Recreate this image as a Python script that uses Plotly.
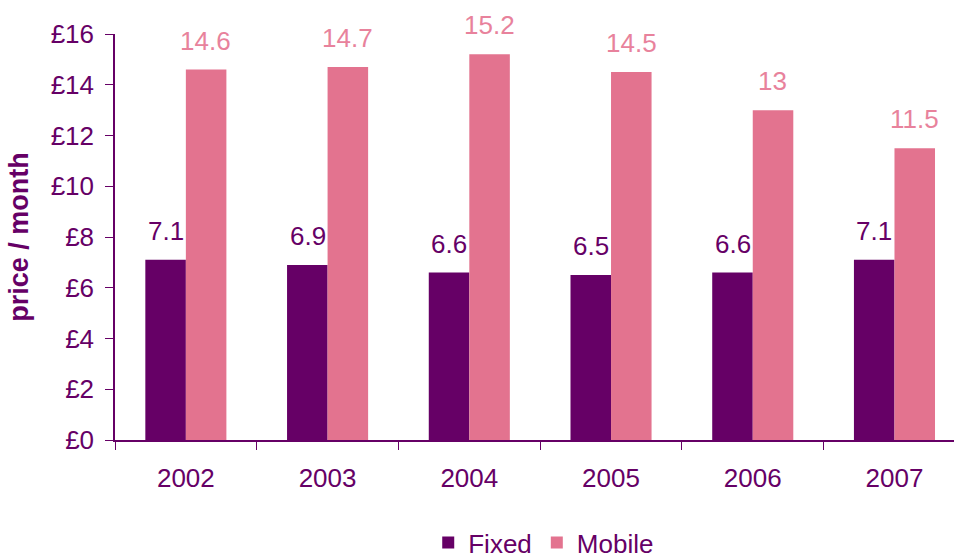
import plotly.graph_objects as go

years = ["2002", "2003", "2004", "2005", "2006", "2007"]
fixed = [7.1, 6.9, 6.6, 6.5, 6.6, 7.1]
mobile = [14.6, 14.7, 15.2, 14.5, 13, 11.5]
y_ticks = [0, 2, 4, 6, 8, 10, 12, 14, 16]
y_tick_labels = ["£" + str(v) for v in y_ticks]

PURPLE = "#660066"
PINK = "#E3738F"
PINK_TEXT = "#E8829C"
FONT = "Liberation Sans, Arial, sans-serif"

fig = go.Figure()
fig.add_trace(go.Bar(name="Fixed", x=years, y=fixed, marker_color=PURPLE, marker_line_width=0))
fig.add_trace(go.Bar(name="Mobile", x=years, y=mobile, marker_color=PINK, marker_line_width=0))

annotations = []
for i, (f, m) in enumerate(zip(fixed, mobile)):
    annotations.append(dict(x=i, y=f, xref="x", yref="y", text=f"{f:g}", showarrow=False,
                            xshift=-20, yshift=12, yanchor="bottom",
                            font=dict(size=26, color=PURPLE, family=FONT)))
    annotations.append(dict(x=i, y=m, xref="x", yref="y", text=f"{m:g}", showarrow=False,
                            xshift=20, yshift=12, yanchor="bottom",
                            font=dict(size=26, color=PINK_TEXT, family=FONT)))

fig.update_layout(
    width=954, height=558,
    margin=dict(l=115, r=0, t=34, b=118, autoexpand=False),
    paper_bgcolor="white", plot_bgcolor="white",
    barmode="group", bargap=0.428, bargroupgap=0,
    font=dict(family=FONT, color=PURPLE, size=26),
    annotations=annotations,
    showlegend=True,
    legend=dict(orientation="h", x=0.511, xanchor="center", y=-0.195, yanchor="top",
                font=dict(size=26, color=PURPLE, family=FONT)),
    xaxis=dict(type="category", range=[-0.5, 5.42], showline=True, linecolor=PURPLE, linewidth=1.5,
               ticks="outside", tickson="boundaries", ticklen=8, tickcolor=PURPLE,
               ticklabelstandoff=14,
               tickfont=dict(size=26, color=PURPLE), showgrid=False, fixedrange=True),
    yaxis=dict(range=[0, 16], tickvals=y_ticks, ticktext=y_tick_labels, showline=True,
               linecolor=PURPLE, linewidth=1.5, ticks="outside", ticklen=8, tickcolor=PURPLE,
               ticklabelstandoff=6,
               tickfont=dict(size=26, color=PURPLE), showgrid=False, zeroline=False,
               title=dict(text="<b>price / month</b>", font=dict(size=27, color=PURPLE, family=FONT), standoff=14)),
)

fig.write_html("out.html", config={"displayModeBar": False},
               post_script="document.body.style.margin='0';document.body.style.padding='0';")
